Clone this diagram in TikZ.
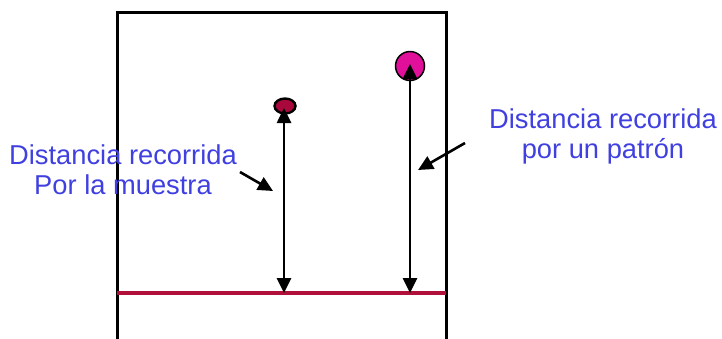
\documentclass[tikz,border=0pt]{standalone}
\usepackage{fontspec}
\setmainfont{Liberation Sans}
\usetikzlibrary{arrows.meta,shapes.geometric}
\definecolor{lbl}{HTML}{4040E0}
\definecolor{redline}{HTML}{B0103A}
\definecolor{spotA}{HTML}{A8083C}
\definecolor{spotB}{HTML}{E0109A}
\begin{document}
\begin{tikzpicture}[x=1pt,y=-1pt,
  frame/.style={draw=black,line width=3pt},
  dist/.style={draw=black,line width=2.6pt,{Triangle[length=15pt,width=14pt]}-{Triangle[length=15pt,width=14pt]}},
  pointer/.style={draw=black,line width=2.6pt,-{Triangle[length=15pt,width=14pt]}},
  label/.style={text=lbl,font=\fontsize{27.3}{30}\selectfont,align=center,inner sep=0pt}]
\useasboundingbox (0,0) rectangle (722,338);
% frame (open bottom)
\coordinate (bl) at (117,340);
\coordinate (tl) at (117,12);
\coordinate (tr) at (446,12);
\coordinate (br) at (446,340);
\draw[frame] (bl) -- (tl) -- (tr) -- (br);
% front line
\coordinate (rl) at (117,293);
\coordinate (rr) at (446,293);
\draw[draw=redline,line width=3.2pt] (rl) -- (rr);
% spots
\node (sa) [ellipse,draw=black,line width=2.4pt,fill=spotA,minimum width=21pt,minimum height=15pt,inner sep=0pt] at (285,106) {};
\node (sb) [circle,draw=black,line width=1.5pt,fill=spotB,minimum size=29pt,inner sep=0pt] at (410,66) {};
% distance arrows
\coordinate (ba) at (284,293);
\coordinate (bb) at (410,293);
\draw[dist] (ba) -- (284,108);
\draw[dist] (bb) -- (410,64);
% labels
\node (la) [label] at (123,170) {Distancia recorrida\\Por la muestra};
\node (lb) [label] at (603,136) {Distancia recorrida\\por un patrón};
\coordinate (pa1) at (240,172);
\coordinate (pa2) at (273,191);
\coordinate (pb1) at (465,143);
\coordinate (pb2) at (418,170);
\draw[pointer] (pa1) -- (pa2);
\draw[pointer] (pb1) -- (pb2);
\end{tikzpicture}
\end{document}
